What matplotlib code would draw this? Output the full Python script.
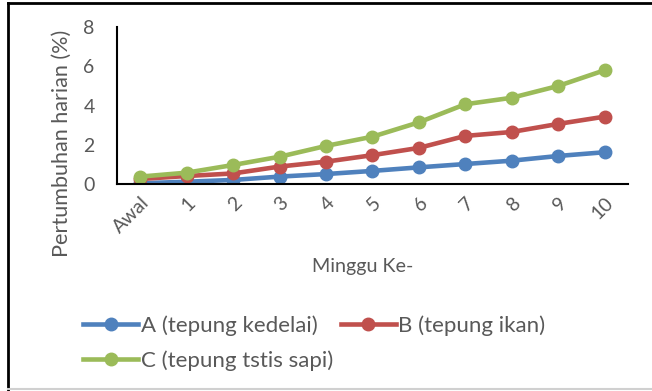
import matplotlib
matplotlib.use('Agg')
import matplotlib.pyplot as plt
from matplotlib.lines import Line2D

plt.rcParams['font.family'] = ['Lato', 'DejaVu Sans']

minggu = ['Awal', '1', '2', '3', '4', '5', '6', '7', '8', '9', '10']
kedelai = [0.05, 0.13, 0.22, 0.39, 0.52, 0.68, 0.86, 1.03, 1.20, 1.44, 1.63]
ikan = [0.27, 0.42, 0.55, 0.90, 1.15, 1.48, 1.85, 2.46, 2.66, 3.07, 3.44]
testis = [0.39, 0.59, 0.98, 1.40, 1.95, 2.42, 3.15, 4.07, 4.40, 5.00, 5.80]
labels = ['A (tepung kedelai)', 'B (tepung ikan)', 'C (tepung tstis sapi)']
colors = ['#4F81BD', '#C0504D', '#9BBB59']
grey = '#595959'

fig = plt.figure(figsize=(6.52, 3.91), dpi=100)
ax = fig.add_axes([0.1794, 0.5287, 0.7836, 0.4023])

x = range(len(minggu))
handles = []
for vals, lab, col in zip([kedelai, ikan, testis], labels, colors):
    h, = ax.plot(x, vals, '-o', color=col, lw=3.3, ms=9, label=lab)
    handles.append(h)

ax.set_xlim(-0.5, len(minggu) - 0.5)
ax.set_ylim(0, 8)
ax.set_yticks([0, 2, 4, 6, 8])
ax.set_xticks(list(x))
ax.set_xticklabels(minggu, rotation=45, ha='right', rotation_mode='anchor')
ax.tick_params(axis='x', length=0, labelsize=14, colors=grey, pad=7)
ax.tick_params(axis='y', length=0, labelsize=14, colors=grey, pad=16)
for s in ['top', 'right']:
    ax.spines[s].set_visible(False)
for s in ['left', 'bottom']:
    ax.spines[s].set_linewidth(1.5)
    ax.spines[s].set_color('black')

ax.set_ylabel('Pertumbuhan harian (%)', fontsize=15.6, color=grey, va='center')
ax.yaxis.set_label_coords(-0.108, 0.263)
ax.set_xlabel('Minggu Ke-', fontsize=14.2, color=grey, va='center')
ax.xaxis.set_label_coords(0.481, -0.52)

# legend filled row by row: A, B on top, C below
order = [handles[0], handles[2], handles[1]]
fig.legend(order, [h.get_label() for h in order], ncol=2, loc='upper left',
           bbox_to_anchor=(0.11, 0.222), frameon=False, fontsize=16,
           labelcolor=grey, handlelength=2.5, handletextpad=0.1,
           columnspacing=0.35, labelspacing=0.65, borderpad=0)

# outer frame
fig.add_artist(Line2D([0.0125, 0.0125], [0, 0.993], color='black', lw=2))
fig.add_artist(Line2D([0.0125, 1], [0.992, 0.992], color='black', lw=2))
fig.add_artist(Line2D([0.0125, 1], [0.005, 0.005], color='#d0d0d0', lw=1.5))

fig.savefig('out.png', dpi=100)
